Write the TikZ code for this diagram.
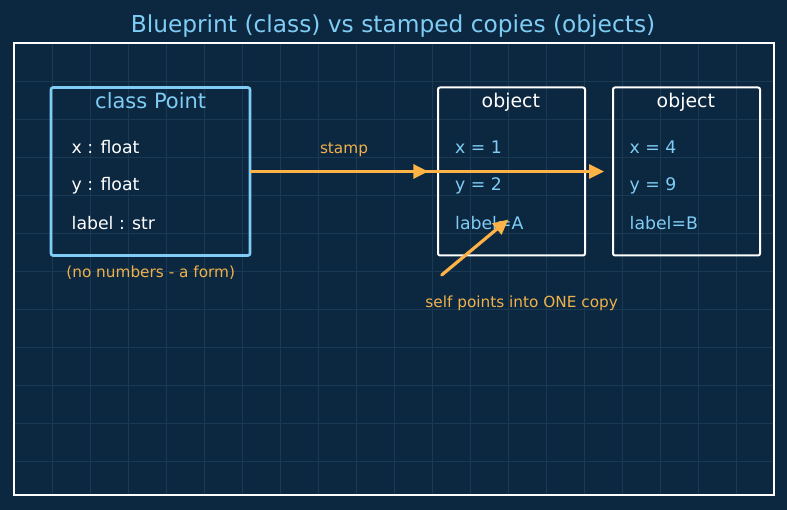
\documentclass[tikz,border=0pt]{standalone}
\usepackage{fontspec}
\setmainfont{DejaVu Sans}
\usetikzlibrary{arrows.meta}
\definecolor{bg}{HTML}{0C2740}
\definecolor{gridc}{HTML}{1A3953}
\definecolor{lblue}{HTML}{7FCDF5}
\definecolor{orng}{HTML}{FFB347}
\definecolor{otxt}{HTML}{EFB24C}
\newcommand{\fs}[1]{\fontsize{#1}{#1}\selectfont}
\tikzset{
  clsbox/.style={draw=lblue, line width=2.6pt, rounded corners=2pt, minimum width=199pt, minimum height=168pt, outer sep=0pt, inner sep=0pt},
  objbox/.style={draw=white, line width=2pt, rounded corners=2pt, minimum width=147pt, minimum height=168pt, outer sep=0pt, inner sep=0pt},
  fld/.style={anchor=base west, inner sep=0pt, font=\fs{17.3}},
  hdr/.style={anchor=base, inner sep=0pt},
  note/.style={anchor=base, inner sep=0pt, text=otxt, font=\fs{15.3}},
  arr/.style={draw=orng, line width=3.2pt, -{Triangle[length=15pt,width=14pt]}}
}
\begin{document}
\begin{tikzpicture}[x=1pt,y=-1pt]
\fill[bg] (0,0) rectangle (787,510);
\useasboundingbox (0,0) rectangle (787,510);
% grid
\foreach \k in {1,...,19} \draw[gridc, line width=0.8pt] ({14+38*\k},43) -- ({14+38*\k},495);
\foreach \k in {1,...,11} \draw[gridc, line width=0.8pt] (14,{43+38*\k}) -- (774,{43+38*\k});
% frame
\draw[white, line width=1.7pt] (14,43) rectangle (774,495);
% title
\node[hdr, text=lblue, font=\fs{23.3}] (title) at (393,32.3) {Blueprint (class) vs stamped copies (objects)};
% class box
\node[clsbox] (cls) at (150.5,171.5) {};
\node[hdr, text=lblue, font=\fs{21}] (clsname) at (150.7,108.3) {class Point};
\node[fld, text=white] (cx) at (71.5,153.3) {x : float};
\node[fld, text=white] (cy) at (71.5,191) {y : float};
\node[fld, text=white] (cl) at (71.5,229.3) {label : str};
\node[note] (form) at (150.7,277.7) {(no numbers - a form)};
% objects
\node[objbox] (o1) at (511.5,171.5) {};
\node[objbox] (o2) at (686.5,171.5) {};
\node[hdr, text=white, font=\fs{18.9}] (o1h) at (510.8,107.7) {object};
\node[hdr, text=white, font=\fs{18.9}] (o2h) at (685.8,107.7) {object};
\node[fld, text=lblue] (ax) at (455,153.3) {x = 1};
\node[fld, text=lblue] (ay) at (455,191) {y = 2};
\node[fld, text=lblue] (al) at (455,229.3) {label=A};
\node[fld, text=lblue] (bx) at (629.5,153.3) {x = 4};
\node[fld, text=lblue] (by) at (629.5,191) {y = 9};
\node[fld, text=lblue] (bl) at (629.5,229.3) {label=B};
% arrows
\node[note] (stamp) at (344,153.3) {stamp};
\draw[arr] (cls.east) -- ([xshift=-9.7pt]o1.west);
\draw[arr] (cls.east) -- ([xshift=-9pt]o2.west);
\coordinate (selftail) at (441.7,275);
\coordinate (selftip) at (508.3,219.5);
\draw[arr, line cap=round] (selftail) -- (selftip);
\node[note] (selfnote) at (521.7,307.3) {self points into ONE copy};
\end{tikzpicture}
\end{document}
